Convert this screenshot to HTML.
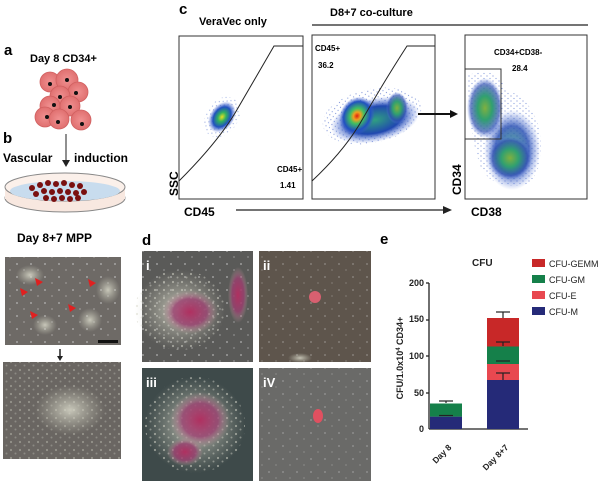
<!DOCTYPE html>
<html><head><meta charset="utf-8"><style>
body{margin:0;background:#fff;}
svg{display:block;font-family:"Liberation Sans",sans-serif;}
.b{font-weight:bold;}
</style></head><body>
<svg width="600" height="484" viewBox="0 0 600 484" xmlns="http://www.w3.org/2000/svg">
<defs>
<radialGradient id="fc1"><stop offset="0" stop-color="#e8e020"/><stop offset="0.3" stop-color="#30b060"/><stop offset="0.65" stop-color="#2050c0"/><stop offset="1" stop-color="#4060d0" stop-opacity="0"/></radialGradient>
<radialGradient id="fc2"><stop offset="0" stop-color="#e02010"/><stop offset="0.2" stop-color="#f0a020"/><stop offset="0.4" stop-color="#40c060"/><stop offset="0.75" stop-color="#2050c0"/><stop offset="1" stop-color="#4060d0" stop-opacity="0"/></radialGradient>
<radialGradient id="fb"><stop offset="0" stop-color="#30a080"/><stop offset="0.6" stop-color="#2048b0"/><stop offset="1" stop-color="#6080e0" stop-opacity="0"/></radialGradient>
<radialGradient id="fg"><stop offset="0" stop-color="#80b040"/><stop offset="0.4" stop-color="#30a070"/><stop offset="0.8" stop-color="#3050b0" stop-opacity="0.7"/><stop offset="1" stop-color="#6080e0" stop-opacity="0"/></radialGradient>
<radialGradient id="cell"><stop offset="0" stop-color="#f09090"/><stop offset="1" stop-color="#e07070"/></radialGradient>
<radialGradient id="pink"><stop offset="0" stop-color="#b03060"/><stop offset="0.6" stop-color="#9a4070" stop-opacity="0.8"/><stop offset="1" stop-color="#c0a0a0" stop-opacity="0"/></radialGradient>
<radialGradient id="white"><stop offset="0" stop-color="#e0e0d0" stop-opacity="0.8"/><stop offset="1" stop-color="#c0c0b0" stop-opacity="0"/></radialGradient>
<pattern id="spk" width="9" height="8" patternUnits="userSpaceOnUse">
<circle cx="2" cy="2" r="1.1" fill="#d8d8cc" opacity="0.55"/><circle cx="6.5" cy="5.5" r="1" fill="#d8d8cc" opacity="0.45"/>
</pattern>
<pattern id="spk2" width="14" height="13" patternUnits="userSpaceOnUse">
<circle cx="3" cy="4" r="1" fill="#ddd" opacity="0.5"/><circle cx="10" cy="10" r="0.9" fill="#ddd" opacity="0.4"/>
</pattern>
<pattern id="dots" width="6" height="5" patternUnits="userSpaceOnUse">
<circle cx="1" cy="1" r="0.6" fill="#3050c0"/><circle cx="4" cy="3.5" r="0.6" fill="#3a60c8"/>
</pattern>
</defs>

<!-- a -->
<text x="4" y="55" class="b" font-size="15">a</text>
<text x="30" y="62" class="b" font-size="11">Day 8 CD34+</text>
<g stroke="#d06060" stroke-width="0.8" fill="url(#cell)">
<circle cx="50" cy="82" r="10"/><circle cx="67" cy="80" r="11"/><circle cx="78" cy="92" r="10"/>
<circle cx="60" cy="96" r="10"/><circle cx="50" cy="106" r="10"/><circle cx="70" cy="106" r="10"/>
<circle cx="45" cy="117" r="10"/><circle cx="59" cy="119" r="10"/><circle cx="81" cy="120" r="10"/>
</g>
<g fill="#111"><circle cx="50" cy="84" r="2"/><circle cx="67" cy="80" r="2"/><circle cx="76" cy="93" r="2"/><circle cx="60" cy="97" r="2"/><circle cx="54" cy="105" r="2"/><circle cx="70" cy="107" r="2"/><circle cx="47" cy="117" r="2"/><circle cx="58" cy="122" r="2"/><circle cx="82" cy="124" r="2"/></g>
<text x="3" y="143" class="b" font-size="15">b</text>
<text x="3" y="162" class="b" font-size="12">Vascular</text>
<text x="74" y="162" class="b" font-size="12">induction</text>
<line x1="66" y1="134" x2="66" y2="163" stroke="#222" stroke-width="1"/>
<path d="M62,160 L66,167 L70,160Z" fill="#222"/>
<ellipse cx="65" cy="198" rx="60" ry="14" fill="#f8e8e0" stroke="#888"/>
<rect x="5" y="187" width="120" height="12" fill="#f8e8e0"/>
<ellipse cx="65" cy="187" rx="60" ry="14" fill="#fbf0ea" stroke="#888"/>
<ellipse cx="65" cy="191" rx="55" ry="10" fill="#c8dcee"/>
<g fill="#7a1010">
<circle cx="32" cy="188" r="3"/><circle cx="40" cy="185" r="3"/><circle cx="48" cy="183" r="3"/><circle cx="56" cy="184" r="3"/><circle cx="64" cy="183" r="3"/><circle cx="72" cy="185" r="3"/><circle cx="80" cy="186" r="3"/>
<circle cx="36" cy="194" r="3"/><circle cx="44" cy="191" r="3"/><circle cx="52" cy="192" r="3"/><circle cx="60" cy="191" r="3"/><circle cx="68" cy="192" r="3"/><circle cx="76" cy="193" r="3"/><circle cx="84" cy="192" r="3"/><circle cx="46" cy="198" r="3"/><circle cx="54" cy="199" r="3"/><circle cx="62" cy="198" r="3"/><circle cx="70" cy="199" r="3"/><circle cx="78" cy="198" r="3"/>
</g>
<text x="17" y="242" class="b" font-size="12">Day 8+7 MPP</text>
<rect x="5" y="257" width="116" height="88" fill="#6e6a66"/>
<rect x="5" y="257" width="116" height="88" fill="url(#spk2)"/>
<ellipse cx="30" cy="275" rx="14" ry="10" fill="url(#white)"/><ellipse cx="108" cy="290" rx="12" ry="14" fill="url(#white)"/><ellipse cx="45" cy="325" rx="12" ry="10" fill="url(#white)"/><ellipse cx="90" cy="320" rx="12" ry="12" fill="url(#white)"/>
<g fill="#e02020"><path d="M35,278 l8,4 -6,4z"/><path d="M20,288 l8,4 -6,4z"/><path d="M88,279 l8,4 -6,4z"/><path d="M68,304 l8,4 -6,4z"/><path d="M30,311 l8,4 -6,4z"/></g>
<rect x="98" y="340" width="20" height="3" fill="#111"/>
<line x1="60" y1="349" x2="60" y2="358" stroke="#222" stroke-width="1.5"/><path d="M57,356 L60,361 L63,356Z" fill="#222"/>
<rect x="3" y="362" width="118" height="97" fill="#6a6662"/>
<rect x="3" y="362" width="118" height="97" fill="url(#spk)" opacity="0.7"/>
<ellipse cx="70" cy="410" rx="35" ry="25" fill="url(#white)"/>

<!-- d -->
<text x="142" y="245" class="b" font-size="15">d</text>
<rect x="142" y="251" width="111" height="111" fill="#5a5a58"/>
<rect x="142" y="251" width="111" height="111" fill="url(#spk2)"/>
<ellipse cx="180" cy="310" rx="45" ry="40" fill="url(#white)"/>
<ellipse cx="180" cy="310" rx="45" ry="40" fill="url(#spk)"/>
<ellipse cx="190" cy="312" rx="28" ry="22" fill="url(#pink)"/>
<ellipse cx="238" cy="295" rx="10" ry="28" fill="url(#pink)"/>
<text x="146" y="270" class="b" font-size="13" fill="#fff">i</text>
<rect x="259" y="251" width="112" height="111" fill="#5e554c"/>
<rect x="259" y="251" width="112" height="111" fill="url(#spk2)" opacity="0.6"/>
<circle cx="315" cy="297" r="6" fill="#d86070"/>
<ellipse cx="300" cy="358" rx="12" ry="5" fill="url(#white)"/>
<text x="263" y="270" class="b" font-size="13" fill="#fff">ii</text>
<rect x="142" y="368" width="111" height="113" fill="#3e4a4a"/>
<ellipse cx="195" cy="425" rx="50" ry="48" fill="url(#white)"/>
<ellipse cx="195" cy="425" rx="50" ry="48" fill="url(#spk)"/>
<ellipse cx="200" cy="420" rx="30" ry="28" fill="url(#pink)"/>
<ellipse cx="185" cy="452" rx="18" ry="14" fill="url(#pink)"/>
<text x="146" y="387" class="b" font-size="13" fill="#fff">iii</text>
<rect x="259" y="368" width="112" height="113" fill="#6a6a68"/>
<rect x="259" y="368" width="112" height="113" fill="url(#spk2)" opacity="0.6"/>
<ellipse cx="318" cy="416" rx="5" ry="7" fill="#e05060"/>
<text x="263" y="387" class="b" font-size="13" fill="#fff">iV</text>

<!-- c -->
<text x="179" y="14" class="b" font-size="15">c</text>
<text x="199" y="25" class="b" font-size="11">VeraVec only</text>
<text x="330" y="16" class="b" font-size="11">D8+7 co-culture</text>
<line x1="312" y1="25" x2="588" y2="25" stroke="#222" stroke-width="1.3"/>
<rect x="179" y="36" width="124" height="163" fill="#fff" stroke="#333"/>
<ellipse cx="222" cy="117" rx="16" ry="22" transform="rotate(35 222 117)" fill="url(#dots)" opacity="0.5"/>
<ellipse cx="222" cy="117" rx="12" ry="17" transform="rotate(35 222 117)" fill="url(#fc1)"/>
<path d="M179,181 Q220,140 238,108 Q260,70 274,46 L303,46" fill="none" stroke="#222"/>
<text x="277" y="172" class="b" font-size="8">CD45+</text>
<text x="280" y="188" class="b" font-size="8">1.41</text>
<text x="184" y="216" class="b" font-size="12">CD45</text>
<text transform="translate(178,196) rotate(-90)" class="b" font-size="12">SSC</text>
<line x1="236" y1="210" x2="445" y2="210" stroke="#222" stroke-width="1.3"/>
<path d="M443,206 L452,210 L443,214Z" fill="#222"/>

<rect x="312" y="35" width="123" height="164" fill="#fff" stroke="#333"/>
<ellipse cx="372" cy="116" rx="50" ry="27" transform="rotate(-12 372 116)" fill="url(#dots)" opacity="0.6"/>
<ellipse cx="375" cy="120" rx="45" ry="22" transform="rotate(-12 375 120)" fill="url(#fb)"/>
<ellipse cx="357" cy="116" rx="17" ry="20" transform="rotate(30 357 116)" fill="url(#fc2)"/>
<ellipse cx="397" cy="108" rx="11" ry="16" fill="url(#fg)"/>
<path d="M312,181 Q345,150 362,120 Q385,80 407,46 L435,46" fill="none" stroke="#222"/>
<text x="315" y="51" class="b" font-size="8">CD45+</text>
<text x="318" y="68" class="b" font-size="8">36.2</text>
<line x1="418" y1="114" x2="452" y2="114" stroke="#111" stroke-width="2"/><path d="M450,110 L458,114 L450,118Z" fill="#111"/>

<rect x="465" y="35" width="122" height="164" fill="#fff" stroke="#333"/>
<path d="M468,75 Q500,65 505,90 Q530,95 540,130 Q545,175 525,185 Q490,190 480,165 Q468,130 468,75Z" fill="url(#dots)" opacity="0.6"/>
<ellipse cx="485" cy="108" rx="18" ry="30" fill="url(#fg)"/>
<ellipse cx="512" cy="150" rx="28" ry="40" fill="url(#fb)" opacity="0.8"/>
<ellipse cx="510" cy="158" rx="22" ry="22" fill="url(#fg)"/>
<rect x="465" y="69" width="36" height="70" fill="none" stroke="#333"/>
<text x="494" y="55" class="b" font-size="8">CD34+CD38-</text>
<text x="512" y="71" class="b" font-size="8">28.4</text>
<text transform="translate(461,195) rotate(-90)" class="b" font-size="12">CD34</text>
<text x="471" y="216" class="b" font-size="12">CD38</text>

<!-- e -->
<text x="380" y="244" class="b" font-size="15">e</text>
<text x="472" y="266" class="b" font-size="10" fill="#222">CFU</text>
<g font-size="9" fill="#222" class="b" text-anchor="end">
<text x="424" y="286">200</text><text x="424" y="322">150</text><text x="424" y="359">100</text><text x="424" y="396">50</text><text x="424" y="432">0</text>
</g>
<text transform="translate(403,358) rotate(-90)" text-anchor="middle" class="b" font-size="9" fill="#222">CFU/1.0x10<tspan font-size="6" dy="-3">4</tspan><tspan dy="3"> CD34+</tspan></text>
<g stroke="#222" stroke-width="1.3">
<line x1="429" y1="283" x2="429" y2="429"/><line x1="429" y1="429" x2="528" y2="429"/>
<line x1="426" y1="283" x2="429" y2="283"/><line x1="426" y1="320" x2="429" y2="320"/><line x1="426" y1="356" x2="429" y2="356"/><line x1="426" y1="393" x2="429" y2="393"/>
</g>
<rect x="430" y="416.6" width="32" height="12.4" fill="#252a78"/>
<rect x="430" y="403.5" width="32" height="13.1" fill="#15804a"/>
<rect x="487" y="380" width="32" height="49" fill="#252a78"/>
<rect x="487" y="364" width="32" height="16" fill="#e84850"/>
<rect x="487" y="346.5" width="32" height="17.5" fill="#15804a"/>
<rect x="487" y="318" width="32" height="28.5" fill="#c82828"/>
<g stroke="#222" stroke-width="1.2">
<line x1="446" y1="403" x2="446" y2="401"/><line x1="439" y1="401" x2="453" y2="401"/>
<line x1="439" y1="415.5" x2="453" y2="415.5"/>
<line x1="503" y1="318" x2="503" y2="312"/><line x1="496" y1="312" x2="510" y2="312"/>
<line x1="503" y1="346" x2="503" y2="342"/><line x1="496" y1="342" x2="510" y2="342"/>
<line x1="496" y1="361" x2="510" y2="361"/>
<line x1="503" y1="380" x2="503" y2="373"/><line x1="496" y1="373" x2="510" y2="373"/>
</g>
<g font-size="8.5" fill="#222" class="b">
<text transform="translate(452,448) rotate(-45)" text-anchor="end">Day 8</text>
<text transform="translate(509,448) rotate(-45)" text-anchor="end">Day 8+7</text>
</g>
<rect x="532" y="259" width="13" height="8" fill="#c82828"/>
<rect x="532" y="275" width="13" height="8" fill="#15804a"/>
<rect x="532" y="291" width="13" height="8" fill="#e84850"/>
<rect x="532" y="307" width="13" height="8" fill="#252a78"/>
<g font-size="9" fill="#222">
<text x="549" y="267">CFU-GEMM</text><text x="549" y="283">CFU-GM</text><text x="549" y="299">CFU-E</text><text x="549" y="315">CFU-M</text>
</g>
</svg>
</body></html>
